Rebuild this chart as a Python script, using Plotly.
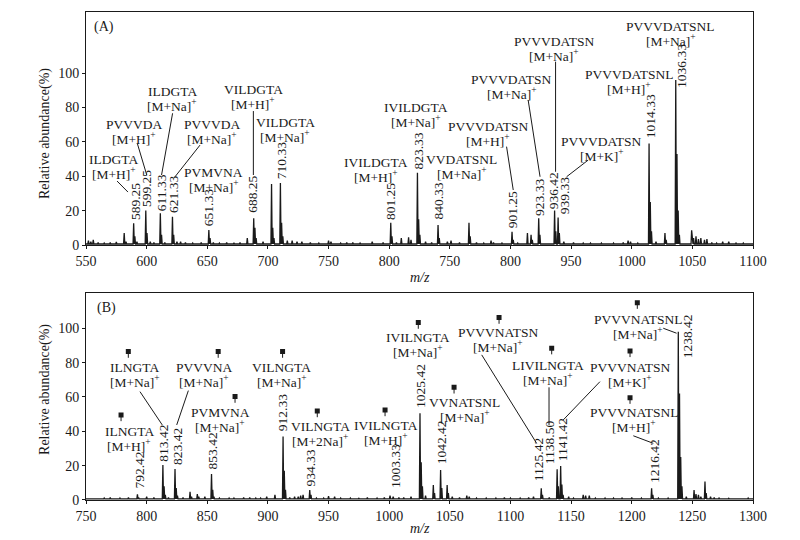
import plotly.graph_objects as go

# ---------------- DATA ----------------
# Panel A: peak m/z and relative abundance (%)
mz_A = [552, 554, 556, 560, 565, 570, 575, 581.5, 583, 589.3, 590.3, 592, 599.3, 600.3, 603, 606,
        611.3, 612.3, 615, 621.3, 622.3, 625, 628, 632, 638, 645, 651.3, 652.3, 655, 660, 666, 672,
        677, 683, 688.3, 689.3, 690.3, 696, 703, 704, 705, 710.3, 711.3, 712.3, 716, 720, 724, 728,
        735, 742, 750, 752, 760, 765, 770, 776, 786, 795, 801.3, 802.3, 806, 810, 816, 818, 823.3,
        824.3, 825.3, 830, 835, 840.3, 841.3, 848, 851, 858, 865.8, 866.8, 872, 878, 884, 886, 893,
        901.3, 902.3, 906, 914, 917, 918, 923.3, 924.3, 936.4, 937.4, 939.3, 940.3, 944, 952, 960,
        966, 975, 985, 993, 997, 999, 1005, 1014.3, 1015.3, 1016.3, 1020, 1027.4, 1028.4, 1036.3,
        1037.3, 1038.3, 1039.3, 1049.4, 1051, 1053, 1055, 1057, 1060, 1062, 1066, 1070, 1075, 1080,
        1086, 1092, 1098]
ab_A = [2.5, 2, 3, 1.5, 1.2, 1.5, 1.8, 7, 2, 12.6, 5, 2, 20, 7, 2, 1.5,
        18.5, 6, 1.5, 16.5, 6, 2, 2, 1.5, 1.2, 1.5, 8.7, 4, 1.5, 1.2, 1.5, 1.3,
        1.5, 4, 15.5, 10, 4, 2, 35.5, 10, 4, 36, 13, 5, 2.5, 2.5, 2, 2,
        1.5, 1.2, 2.5, 2, 1.2, 1.5, 1.5, 1.2, 2, 1.5, 13, 5, 1.5, 4, 4.5, 3, 42,
        15, 6, 2, 1.5, 11.6, 4, 2, 2.5, 1.5, 13, 5, 1.5, 1.2, 2.5, 1.5, 1.2,
        7.7, 3, 1.2, 7, 6, 3, 15.5, 6, 20, 8, 16, 7, 2, 1.5, 1.2,
        1.2, 1.2, 1.2, 1.5, 2.5, 2, 1.2, 59, 25, 8, 2, 7, 3, 96,
        53, 20, 6, 8.5, 4, 5, 3.5, 4, 3, 3.5, 1.5, 1.2, 2, 2,
        1.2, 1.2, 1]

# Panel B: peak m/z and relative abundance (%)
mz_B = [752, 758, 765, 770, 778, 785, 792.4, 793.4, 800, 806, 813.4, 814.4, 815.4, 818, 823.4,
        824.4, 825.4, 830, 835.8, 837, 841.8, 843, 848, 853.5, 854.5, 855.5, 860, 868, 872, 880,
        885, 890, 894, 899, 905.8, 912.5, 913.5, 914.5, 918, 922, 925, 927, 929, 934.5, 935.5,
        940, 946, 950, 955, 960, 968, 975, 982, 990, 996, 1000.7, 1003.3, 1008, 1012, 1018,
        1025.4, 1026.4, 1027.4, 1030, 1036.4, 1037.4, 1042.4, 1043.4, 1047.8, 1048.8, 1052, 1058,
        1064, 1066, 1072, 1080, 1088, 1095, 1100, 1108, 1115, 1119, 1125.4, 1126.4, 1132,
        1138.5, 1139.5, 1141.4, 1142.4, 1143.4, 1148, 1152, 1160, 1162, 1165, 1170, 1178, 1185,
        1192, 1200, 1208, 1216.4, 1217.4, 1222, 1230, 1238.4, 1239.4, 1240.4, 1241.4, 1245,
        1251.4, 1253, 1255, 1257, 1260.4, 1261.4, 1265, 1268, 1272, 1280, 1288, 1296]
ab_B = [1, 1, 1.2, 1.5, 1.2, 1.5, 3.3, 1.5, 2, 1.5, 20.4, 8, 3, 1.5, 18,
        7, 2.5, 1.5, 4.8, 2, 3.5, 2, 2, 15.1, 6, 2, 1.2, 1.2, 1.2, 1.5,
        1.5, 1.2, 1.2, 2, 3, 37, 17, 6, 1.5, 2, 2, 2.5, 3, 5.8, 3,
        1.2, 1.2, 2.2, 2, 1.2, 1.2, 1, 1.5, 1.2, 1.5, 2.5, 2, 1.5, 1.5, 2,
        50.5, 22, 8, 2.5, 8.7, 4, 17.5, 7, 8.7, 4, 2, 1.5,
        2.5, 2, 1.2, 1.2, 1.2, 1.5, 1.2, 1.2, 1.5, 2, 6.8, 3, 1.5,
        17.9, 8, 19.8, 9, 3, 2, 1.2, 3, 2.5, 2.5, 1.2, 1.2, 1.2,
        1.2, 1.5, 1.2, 6.8, 3, 1.2, 1.2, 98, 62, 25, 8, 2,
        5.8, 3.5, 3, 2, 10.7, 4, 2, 1.5, 1.2, 1, 1, 1.2]

# Tick labels
ytick_vals = [0, 20, 40, 60, 80, 100]
xtick_vals_A = [550, 600, 650, 700, 750, 800, 850, 900, 950, 1000, 1050, 1100]
xtick_text_A = ["550", "600", "650", "700", "750", "800", "750", "800", "950", "1000", "1050", "1100"]
xtick_vals_B = [750, 800, 850, 900, 950, 1000, 1050, 1100, 1150, 1200, 1250, 1300]

# Peak m/z labels (text, x, y-bottom)
num_A = [("589.25", 591.0, 13.5), ("599.25", 600.0, 21.0), ("611.33", 612.9, 18.4),
         ("621.33", 622.0, 17.4), ("651.33", 651.7, 9.7), ("688.25", 687.1, 17.4),
         ("710.33", 710.8, 36.8), ("801.25", 801.3, 13.5), ("823.33", 824.0, 42.6),
         ("840.33", 840.5, 13.5), ("901.25", 901.9, 8.7), ("923.33", 924.4, 15.5),
         ("936.42", 936.2, 19.5), ("939.33", 944.2, 16.5), ("1014.33", 1015.1, 61.0),
         ("1036.33", 1041.2, 90.0)]
num_B = [("792.42", 794.5, 5.8), ("813.42", 814.3, 21.4), ("823.42", 824.8, 19.4),
         ("853.42", 854.1, 16.5), ("912.33", 912.7, 38.8), ("934.33", 935.3, 6.8),
         ("1003.33", 1004.8, 5.8), ("1025.42", 1025.4, 52.4), ("1042.42", 1043.3, 19.4),
         ("1125.42", 1123.0, 9.7), ("1138.50", 1132.2, 19.4), ("1141.42", 1143.0, 21.4),
         ("1216.42", 1218.4, 8.7), ("1238.42", 1245.8, 81.5)]

# Compound labels (line1, line2, x, y-center)
lab_A = [("ILDGTA", "[M+H]<sup>+</sup>", 572.9, 45.8),
         ("PVVVDA", "[M+H]<sup>+</sup>", 589.7, 65.9),
         ("ILDGTA", "[M+Na]<sup>+</sup>", 621.3, 85.3),
         ("PVVVDA", "[M+Na]<sup>+</sup>", 654.3, 66.3),
         ("PVMVNA", "[M+Na]<sup>+</sup>", 655.3, 38.0),
         ("VILDGTA", "[M+H]<sup>+</sup>", 688.0, 86.5),
         ("VILDGTA", "[M+Na]<sup>+</sup>", 714.1, 67.4),
         ("IVILDGTA", "[M+H]<sup>+</sup>", 789.1, 44.2),
         ("IVILDGTA", "[M+Na]<sup>+</sup>", 822.1, 75.9),
         ("VVDATSNL", "[M+Na]<sup>+</sup>", 859.8, 45.8),
         ("PVVVDATSN", "[M+H]<sup>+</sup>", 881.7, 64.9),
         ("PVVVDATSN", "[M+Na]<sup>+</sup>", 901.0, 92.0),
         ("PVVVDATSN", "[M+Na]<sup>+</sup>", 936.0, 114.1),
         ("PVVVDATSN", "[M+K]<sup>+</sup>", 975.2, 56.2),
         ("PVVVDATSNL", "[M+H]<sup>+</sup>", 997.8, 94.9),
         ("PVVVDATSNL", "[M+Na]<sup>+</sup>", 1032.2, 123.1)]
lab_B = [("ILNGTA", "[M+H]<sup>+</sup>", 785.5, 35.9, 778.9, 49.5),
         ("ILNGTA", "[M+Na]<sup>+</sup>", 790.2, 72.8, 784.9, 86.4),
         ("PVVVNA", "[M+Na]<sup>+</sup>", 847.5, 72.8, 859.0, 86.4),
         ("PVMVNA", "[M+Na]<sup>+</sup>", 860.5, 46.8, 872.9, 60.2),
         ("VILNGTA", "[M+Na]<sup>+</sup>", 911.6, 72.8, 912.1, 86.4),
         ("VILNGTA", "[M+2Na]<sup>+</sup>", 943.0, 38.6, 940.7, 51.8),
         ("IVILNGTA", "[M+H]<sup>+</sup>", 997.4, 39.3, 996.6, 52.4),
         ("IVILNGTA", "[M+Na]<sup>+</sup>", 1023.8, 90.3, 1024.0, 103.3),
         ("VVNATSNL", "[M+Na]<sup>+</sup>", 1062.5, 52.6, 1053.5, 65.6),
         ("PVVVNATSN", "[M+Na]<sup>+</sup>", 1090.0, 93.2, 1090.6, 106.2),
         ("LIVILNGTA", "[M+Na]<sup>+</sup>", 1130.6, 74.3, 1134.0, 88.4),
         ("PVVVNATSN", "[M+K]<sup>+</sup>", 1198.6, 72.8, 1198.6, 86.8),
         ("PVVVNATSNL", "[M+H]<sup>+</sup>", 1201.9, 46.8, 1198.6, 59.6),
         ("PVVVNATSNL", "[M+Na]<sup>+</sup>", 1205.2, 100.9, 1204.6, 114.9)]

# Leader lines (x0, y0, x1, y1)
lead_A = [(575.6, 37.2, 584.6, 30.8), (592.3, 59.1, 600.1, 40.7), (621.4, 76.6, 612.3, 40.7),
          (644.0, 58.1, 623.4, 39.7), (688.0, 77.9, 688.0, 40.7), (896.8, 57.2, 902.3, 32.0),
          (914.6, 84.3, 924.4, 39.7), (937.2, 106.6, 937.2, 42.6), (964.1, 49.4, 946.3, 39.7)]
lead_B = [(794.5, 63.1, 812.9, 43.7), (834.4, 63.7, 824.8, 43.7), (1076.3, 84.5, 1121.6, 33.0),
          (1131.8, 65.6, 1131.8, 43.7), (1173.8, 68.9, 1143.5, 46.6), (1201.3, 37.4, 1217.8, 33.0),
          (1226.0, 100.0, 1237.0, 97.1)]

# ---------------- FIGURE ----------------
FONT = "Liberation Serif, Times New Roman, serif"
INK = "#1a1a1a"


def stick_line(mz, ab, x_min, x_max, base=0.6, hw=0.5):
    xs, ys = [x_min], [base]
    for m, a in sorted(zip(mz, ab)):
        xs += [m - hw, m, m + hw]
        ys += [base, a, base]
    xs.append(x_max)
    ys.append(base)
    return xs, ys


fig = go.Figure()
xa, ya = stick_line(mz_A, ab_A, 550, 1100)
xb, yb = stick_line(mz_B, ab_B, 750, 1300)
fig.add_trace(go.Scatter(x=xa, y=ya, mode="lines", line=dict(color=INK, width=1.3),
                         xaxis="x", yaxis="y", hoverinfo="skip", showlegend=False))
fig.add_trace(go.Scatter(x=xb, y=yb, mode="lines", line=dict(color=INK, width=1.3),
                         xaxis="x2", yaxis="y2", hoverinfo="skip", showlegend=False))

# Square markers for panel B
fig.add_trace(go.Scatter(x=[l[4] for l in lab_B], y=[l[5] for l in lab_B], mode="markers",
                         marker=dict(symbol="square", size=5, color=INK),
                         xaxis="x2", yaxis="y2", hoverinfo="skip", showlegend=False))

ann = []
shapes = []
fs = 13.5


def add_labels(labels, xr, yr):
    for l in labels:
        t1, t2, x, y = l[0], l[1], l[2], l[3]
        ann.append(dict(x=x, y=y, xref=xr, yref=yr, text=t1, showarrow=False,
                        yshift=7, font=dict(size=fs)))
        ann.append(dict(x=x, y=y, xref=xr, yref=yr, text=t2, showarrow=False,
                        yshift=-7, font=dict(size=fs)))


def add_nums(nums, xr, yr):
    for t, x, y in nums:
        ann.append(dict(x=x, y=y, xref=xr, yref=yr, text=t, showarrow=False,
                        textangle=-90, yanchor="bottom", xanchor="center",
                        font=dict(size=fs)))


def add_leads(leads, xr, yr):
    for x0, y0, x1, y1 in leads:
        shapes.append(dict(type="line", xref=xr, yref=yr, x0=x0, y0=y0, x1=x1, y1=y1,
                           line=dict(color=INK, width=1)))


add_labels(lab_A, "x", "y")
add_labels(lab_B, "x2", "y2")
add_nums(num_A, "x", "y")
add_nums(num_B, "x2", "y2")
add_leads(lead_A, "x", "y")
add_leads(lead_B, "x2", "y2")

# stems under square markers
for l in lab_B:
    shapes.append(dict(type="line", xref="x2", yref="y2", x0=l[4], x1=l[4], y0=l[5], y1=l[5] - 3.6,
                       line=dict(color=INK, width=1)))

# Panel letters
ann.append(dict(x=564.8, y=126.7, xref="x", yref="y", text="(A)", showarrow=False, font=dict(size=14)))
ann.append(dict(x=766.5, y=111.6, xref="x2", yref="y2", text="(B)", showarrow=False, font=dict(size=14)))

# axis titles
for yy in (0.752, 0.2275):
    ann.append(dict(x=-0.0615, y=yy, xref="paper", yref="paper", text="Relative abundance(%)",
                    textangle=-90, showarrow=False, xanchor="center", yanchor="middle",
                    font=dict(size=14)))
ann.append(dict(x=0.5, y=0, xref="x domain", yref="y domain", text="<i>m/z</i>",
                showarrow=False, yshift=-32, xanchor="center", yanchor="middle", font=dict(size=14)))
ann.append(dict(x=0.5, y=0, xref="x2 domain", yref="y2 domain", text="<i>m/z</i>",
                showarrow=False, yshift=-28, xanchor="center", yanchor="middle", font=dict(size=14)))

axis_common = dict(showline=True, mirror=True, linecolor=INK, linewidth=1, ticks="outside",
                   ticklen=3, tickcolor=INK, showgrid=False, zeroline=False,
                   tickfont=dict(size=14, color=INK, family=FONT))

fig.update_layout(
    width=800, height=540,
    margin=dict(l=78, r=55, t=4, b=48),
    paper_bgcolor="white", plot_bgcolor="white",
    font=dict(family=FONT, color=INK, size=14),
    showlegend=False,
    xaxis=dict(domain=[0, 1], range=[550, 1100], anchor="y", tickvals=xtick_vals_A,
               ticktext=xtick_text_A, **axis_common),
    yaxis=dict(domain=[0.5225, 1], range=[0, 135.5], anchor="x", tickvals=ytick_vals, **axis_common),
    xaxis2=dict(domain=[0, 1], range=[750, 1300], anchor="y2", tickvals=xtick_vals_B, **axis_common),
    yaxis2=dict(domain=[0, 0.4248], range=[0, 120.7], anchor="x2", tickvals=ytick_vals, **axis_common),
    annotations=ann,
    shapes=shapes,
)

fig.write_html("out.html")
